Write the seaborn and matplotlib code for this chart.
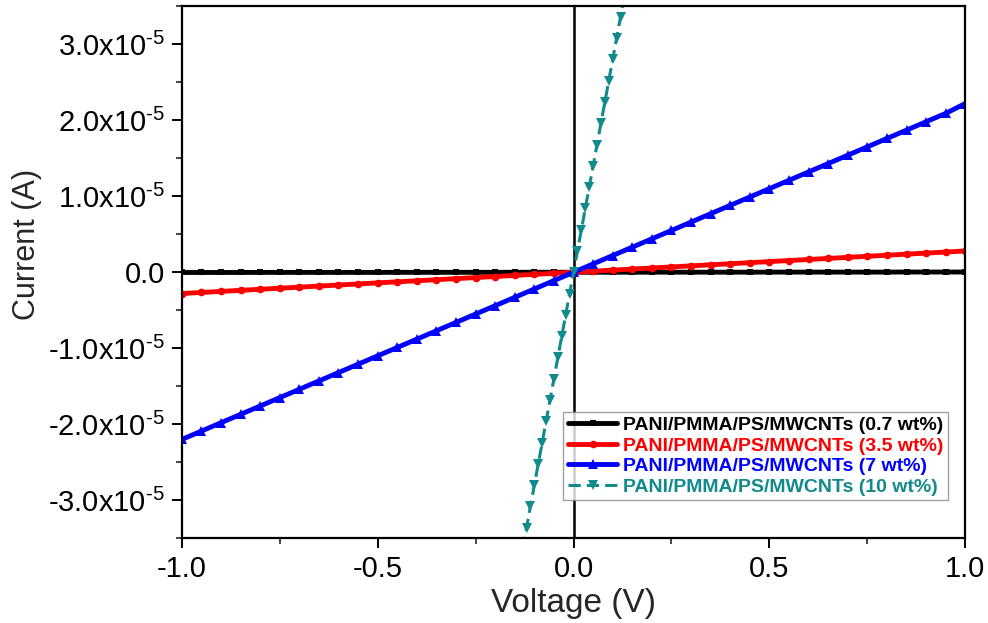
import numpy as np
import pandas as pd
import matplotlib
matplotlib.use("Agg")
import matplotlib.pyplot as plt
from matplotlib.ticker import MultipleLocator, FuncFormatter
import seaborn as sns

# voltage sweep (V), 0.05 V steps
voltage = [-1.00, -0.95, -0.90, -0.85, -0.80, -0.75, -0.70, -0.65, -0.60, -0.55,
           -0.50, -0.45, -0.40, -0.35, -0.30, -0.25, -0.20, -0.15, -0.10, -0.05,
           0.00, 0.05, 0.10, 0.15, 0.20, 0.25, 0.30, 0.35, 0.40, 0.45,
           0.50, 0.55, 0.60, 0.65, 0.70, 0.75, 0.80, 0.85, 0.90, 0.95, 1.00]

# currents in microampere
i_07 = [-0.03, -0.03, -0.03, -0.03, -0.02, -0.02, -0.02, -0.02, -0.02, -0.02,
        -0.02, -0.01, -0.01, -0.01, -0.01, -0.01, -0.01, 0.00, 0.00, 0.00,
        0.00, 0.00, 0.00, 0.00, 0.01, 0.01, 0.01, 0.01, 0.01, 0.01,
        0.02, 0.02, 0.02, 0.02, 0.02, 0.02, 0.02, 0.03, 0.03, 0.03, 0.03]
i_35 = [-2.80, -2.66, -2.52, -2.38, -2.24, -2.10, -1.96, -1.82, -1.68, -1.54,
        -1.40, -1.26, -1.12, -0.98, -0.84, -0.70, -0.56, -0.42, -0.28, -0.14,
        0.00, 0.14, 0.28, 0.42, 0.56, 0.70, 0.84, 0.98, 1.12, 1.26,
        1.40, 1.54, 1.68, 1.82, 1.96, 2.10, 2.24, 2.38, 2.52, 2.66, 2.80]
i_7 = [-22.0, -20.9, -19.8, -18.7, -17.6, -16.5, -15.4, -14.3, -13.2, -12.1,
       -11.0, -9.9, -8.8, -7.7, -6.6, -5.5, -4.4, -3.3, -2.2, -1.1,
       0.0, 1.1, 2.2, 3.3, 4.4, 5.5, 6.6, 7.7, 8.8, 9.9,
       11.0, 12.1, 13.2, 14.3, 15.4, 16.5, 17.6, 18.7, 19.8, 20.9, 22.2]

# 10 wt% only visible near 0 V, 0.01 V steps
voltage_10 = [-0.13, -0.12, -0.11, -0.10, -0.09, -0.08, -0.07, -0.06, -0.05,
              -0.04, -0.03, -0.02, -0.01, 0.00, 0.01, 0.02, 0.03, 0.04,
              0.05, 0.06, 0.07, 0.08, 0.09, 0.10, 0.11, 0.12, 0.13]
i_10 = [-36.4, -33.6, -30.8, -28.0, -25.2, -22.4, -19.6, -16.8, -14.0,
        -11.2, -8.4, -5.6, -2.8, 0.0, 2.8, 5.6, 8.4, 11.2,
        14.0, 16.8, 19.6, 22.4, 25.2, 28.0, 30.8, 33.6, 36.4]

labels = ["PANI/PMMA/PS/MWCNTs (0.7 wt%)", "PANI/PMMA/PS/MWCNTs (3.5 wt%)",
          "PANI/PMMA/PS/MWCNTs (7 wt%)", "PANI/PMMA/PS/MWCNTs (10 wt%)"]
colors = ["#000000", "#ff0000", "#0000ff", "#108a8a"]

sns.set_style("ticks")
plt.rcParams["font.family"] = ["Liberation Sans", "DejaVu Sans"]
plt.rcParams["mathtext.fontset"] = "custom"
plt.rcParams["mathtext.rm"] = "Liberation Sans"
plt.rcParams["axes.unicode_minus"] = False

fig = plt.figure(figsize=(9.88, 6.23), dpi=100)
ax = fig.add_axes([0.184, 0.136, 0.793, 0.854])

ax.axvline(0, color="black", lw=1.8, zorder=1)

ua = 1e-6
sns.lineplot(x=voltage, y=np.array(i_07) * ua, ax=ax, color=colors[0], lw=3.5,
             marker="s", ms=4, mew=0, label=labels[0])
sns.lineplot(x=voltage, y=np.array(i_35) * ua, ax=ax, color=colors[1], lw=3.5,
             marker="o", ms=5.5, mew=0, label=labels[1])
sns.lineplot(x=voltage, y=np.array(i_7) * ua, ax=ax, color=colors[2], lw=3.5,
             marker="^", ms=6.5, mew=0, label=labels[2])
sns.lineplot(x=voltage_10, y=np.array(i_10) * ua, ax=ax, color=colors[3], lw=2.2,
             marker="v", ms=7, mew=0, dashes=(4, 2), label=labels[3])

ax.set_xlim(-1, 1)
ax.set_ylim(-3.5e-5, 3.5e-5)
ax.xaxis.set_major_locator(MultipleLocator(0.5))
ax.xaxis.set_minor_locator(MultipleLocator(0.25))
ax.yaxis.set_major_locator(MultipleLocator(1e-5))
ax.yaxis.set_minor_locator(MultipleLocator(0.5e-5))


def yfmt(v, pos):
    m = v / 1e-5
    if abs(m) < 1e-9:
        return "0.0"
    return "%.1fx10$^{\\text{-5}}$" % m


ax.yaxis.set_major_formatter(FuncFormatter(yfmt))
ax.xaxis.set_major_formatter(FuncFormatter(lambda v, p: "%.1f" % v))

for s in ax.spines.values():
    s.set_linewidth(1.6)
    s.set_color("black")
ax.tick_params(which="major", length=7, width=1.4, labelsize=21, colors="black", pad=5)
ax.tick_params(which="minor", length=4, width=1.2)

ax.set_xlabel("Voltage (V)", fontsize=24, labelpad=4)
ax.set_ylabel("Current (A)", fontsize=22)
ax.yaxis.set_label_coords(-0.179, 0.553)

leg = ax.legend(loc="lower right", bbox_to_anchor=(0.978, 0.071),
                prop={"weight": "bold", "size": 14}, frameon=True, fancybox=False,
                handlelength=2.5, handletextpad=0.3, borderpad=0.25, labelspacing=0.15,
                borderaxespad=0)
leg.get_frame().set_edgecolor("#888888")
leg.get_frame().set_linewidth(1.0)
for txt, c in zip(leg.get_texts(), colors):
    txt.set_color(c)

fig.savefig("out.png", dpi=100)
